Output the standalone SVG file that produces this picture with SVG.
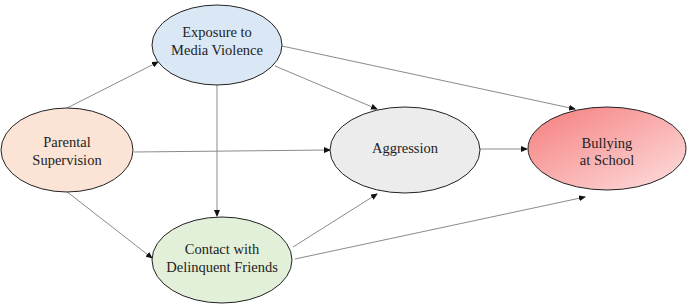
<svg xmlns="http://www.w3.org/2000/svg" width="687" height="306" viewBox="0 0 687 306">
<style>
.n{stroke:#222;stroke-width:1}
.t{font-size:14.5px;fill:#222;text-anchor:middle}
.e{stroke:#8a8a8a;stroke-width:1;fill:none;marker-end:url(#ah)}
</style>
<defs>
<marker id="ah" markerWidth="7" markerHeight="6" refX="6" refY="3" orient="auto" markerUnits="userSpaceOnUse">
<path d="M0,0 L7,3 L0,6 Z" fill="#111"/>
</marker>
<linearGradient id="bg" x1="0" y1="0" x2="1" y2="1">
<stop offset="0" stop-color="#f67c7c"/>
<stop offset="1" stop-color="#fde0e0"/>
</linearGradient>
</defs>
<rect width="687" height="306" fill="#fff"/>
<g id="connectors">
<line class="e" x1="67" y1="108" x2="158" y2="62"/>
<line class="e" x1="134" y1="152" x2="330" y2="150"/>
<line class="e" x1="66" y1="191" x2="152" y2="258"/>
<line class="e" x1="217" y1="85" x2="217" y2="216"/>
<line class="e" x1="275" y1="66" x2="377" y2="109"/>
<line class="e" x1="282" y1="46" x2="575" y2="109"/>
<line class="e" x1="480" y1="149" x2="527" y2="149"/>
<line class="e" x1="293" y1="247" x2="377" y2="194"/>
<line class="e" x1="295" y1="259" x2="585" y2="197"/>
</g>
<g id="exposure">
<ellipse class="n" cx="217" cy="45" rx="65" ry="40" fill="#dae8f5"/>
<text class="t" font-family="Liberation Serif" x="217" y="37">Exposure to</text>
<text class="t" font-family="Liberation Serif" x="217" y="55">Media Violence</text>
</g>
<g id="parental">
<ellipse class="n" cx="67" cy="150" rx="66" ry="42" fill="#fbe4d5"/>
<text class="t" font-family="Liberation Serif" x="67" y="147">Parental</text>
<text class="t" font-family="Liberation Serif" x="67" y="165">Supervision</text>
</g>
<g id="contact">
<ellipse class="n" cx="222" cy="260" rx="70" ry="43" fill="#e2efd9"/>
<text class="t" font-family="Liberation Serif" x="222" y="254">Contact with</text>
<text class="t" font-family="Liberation Serif" x="222" y="272">Delinquent Friends</text>
</g>
<g id="aggression">
<ellipse class="n" cx="405" cy="150" rx="75" ry="43" fill="#ececec"/>
<text class="t" font-family="Liberation Serif" x="405" y="153">Aggression</text>
</g>
<g id="bullying">
<ellipse class="n" cx="607" cy="148.5" rx="79" ry="41.5" fill="url(#bg)"/>
<text class="t" font-family="Liberation Serif" x="607" y="148">Bullying</text>
<text class="t" font-family="Liberation Serif" x="607" y="165">at School</text>
</g>
</svg>
